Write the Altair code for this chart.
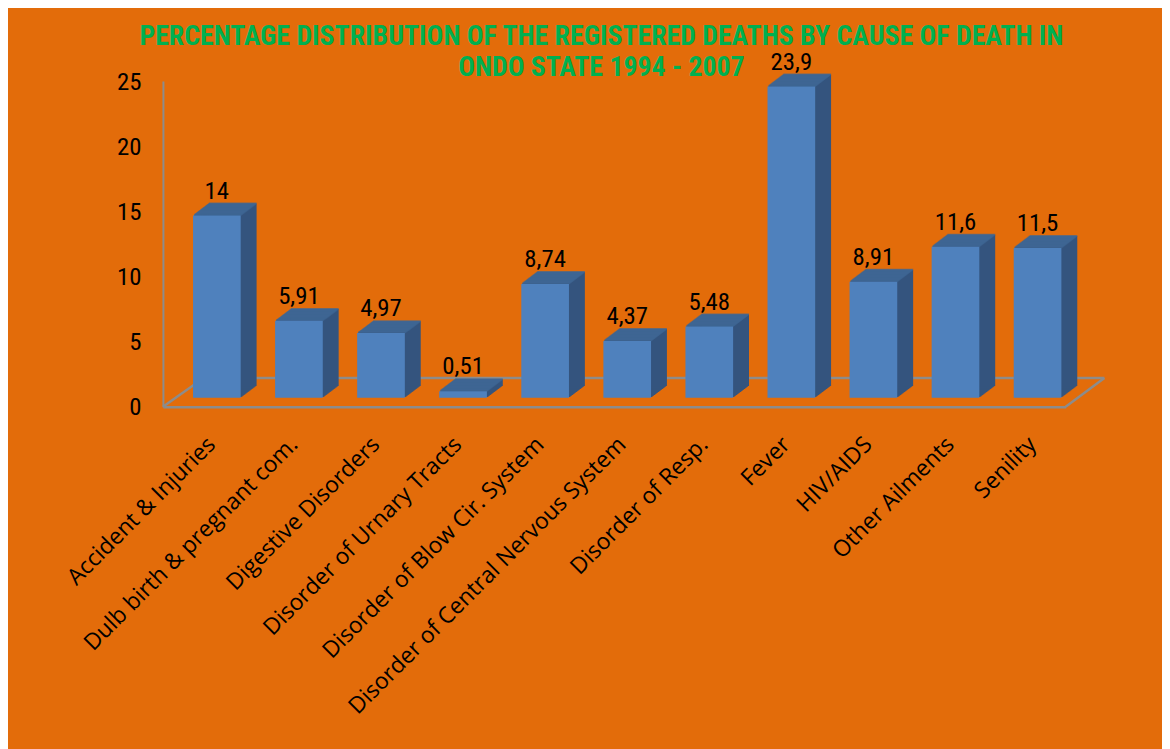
import altair as alt
import pandas as pd

categories = [
    "Accident & Injuries", "Dulb birth & pregnant com.", "Digestive Disorders",
    "Disorder of Urnary Tracts", "Disorder of Blow Cir. System",
    "Disorder of Central Nervous System", "Disorder of Resp.", "Fever",
    "HIV/AIDS", "Other Ailments", "Senility",
]
values = [14, 5.91, 4.97, 0.51, 8.74, 4.37, 5.48, 23.9, 8.91, 11.6, 11.5]
labels = [str(v).replace(".", ",") for v in values]
y_ticks = [0, 5, 10, 15, 20, 25]
title_lines = [
    "PERCENTAGE DISTRIBUTION OF THE REGISTERED DEATHS BY CAUSE OF DEATH IN",
    "ONDO STATE 1994 - 2007",
]

df = pd.DataFrame({"cause": categories, "value": values, "label": labels})

W, H = 909, 328
FRONT = "#4F81BD"
SIDE = "#34547E"
TOP = "#3E6794"
GRAY = "#8C8C8C"
NUM_FONT = "Liberation Sans Narrow, Roboto Condensed, Roboto, sans-serif"

x_enc = alt.X(
    "cause:N", sort=None,
    scale=alt.Scale(paddingInner=0, paddingOuter=0),
    axis=alt.Axis(
        title=None, labelAngle=-45, labelAlign="right", labelBaseline="middle",
        labelFont="Open Sans", labelFontSize=23, labelColor="black",
        labelPadding=34, labelOffset=8, ticks=False, domainColor=GRAY,
        domainWidth=2.5, labelLimit=600,
    ),
)
y_enc = alt.Y(
    "value:Q", scale=alt.Scale(domain=[0, 25], nice=False),
    axis=alt.Axis(
        title=None, values=y_ticks, grid=False, ticks=False, domainColor=GRAY,
        domainWidth=2, labelFont=NUM_FONT, labelFontSize=25, labelColor="black",
        labelPadding=22,
    ),
)

base = alt.Chart(df)
one = alt.Data(values=[{"k": 1}])

floor_back = alt.Chart(one).mark_rule(color=GRAY, strokeWidth=2.5).encode(
    x=alt.value(41), x2=alt.value(948), y=alt.value(299))
floor_left = alt.Chart(one).mark_rule(color=GRAY, strokeWidth=2.5).encode(
    x=alt.value(0), x2=alt.value(41), y=alt.value(328), y2=alt.value(299))
floor_right = alt.Chart(one).mark_rule(color=GRAY, strokeWidth=2.5).encode(
    x=alt.value(909), x2=alt.value(948), y=alt.value(328), y2=alt.value(299))

DX0, DY0 = 13, -9
depth = 16
layers = [floor_back, floor_left, floor_right]
for i in range(1, depth + 1):
    layers.append(base.mark_bar(size=48, color=SIDE, xOffset=DX0 + i,
                                yOffset=DY0 - 0.75 * i).encode(x=x_enc, y=y_enc))
for i in range(1, depth + 1):
    layers.append(base.mark_tick(size=48, thickness=2, color=TOP, orient="horizontal",
                                 xOffset=DX0 + i, yOffset=DY0 - 0.75 * i).encode(x=x_enc, y=y_enc))
layers.append(base.mark_bar(size=48, color=FRONT, xOffset=DX0, yOffset=DY0).encode(x=x_enc, y=y_enc))
layers.append(base.mark_text(font=NUM_FONT, fontSize=25, color="black",
                             baseline="alphabetic", xOffset=DX0, dy=DY0 - 17).encode(
    x=x_enc, y=y_enc, text="label:N"))

chart = alt.layer(*layers).properties(
    width=W, height=H,
    autosize=alt.AutoSizeParams(type="none"),
    padding={"left": 156, "top": 71, "right": 97, "bottom": 342},
    title=alt.TitleParams(
        text=title_lines, font=NUM_FONT, fontSize=28, fontWeight="bold",
        color="#00B050", lineHeight=31, anchor="middle", dx=-13, dy=36, offset=4,
    ),
).configure(background="#E36C0A").configure_view(stroke=None)

chart.save("out.html", embed_options={"renderer": "svg", "actions": False})
